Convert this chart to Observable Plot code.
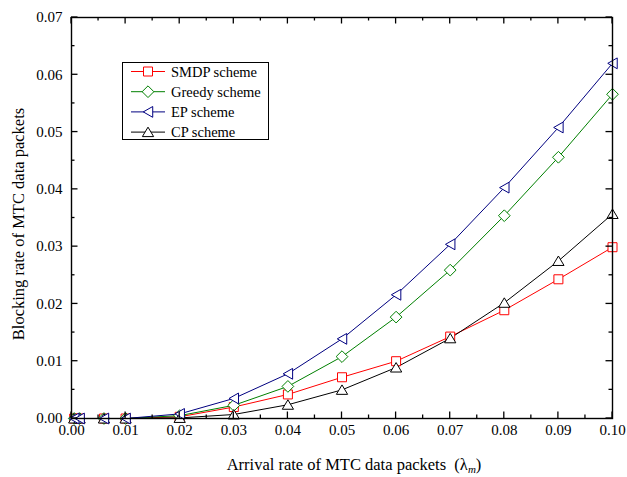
<!DOCTYPE html>
<html><head><meta charset="utf-8">
<script src="https://cdn.jsdelivr.net/npm/d3@7"></script>
<script src="https://cdn.jsdelivr.net/npm/@observablehq/plot@0.6"></script>
<style>body{margin:0;background:#fff} #chart{width:627px;height:477px}</style>
</head><body><div id="chart"></div>
<script>
const xValues = [0.0005, 0.0015, 0.006, 0.01, 0.02, 0.03, 0.04, 0.05, 0.06, 0.07, 0.08, 0.09, 0.10];
const smdpValues   = [0, 0, 0, 0, 0.0003, 0.0020, 0.0042, 0.0072, 0.0100, 0.0143, 0.0189, 0.0243, 0.0299];
const greedyValues = [0, 0, 0, 0, 0.0005, 0.0023, 0.0056, 0.0108, 0.0177, 0.0259, 0.0354, 0.0456, 0.0566];
const epValues     = [0, 0, 0, 0, 0.0008, 0.0035, 0.0078, 0.0139, 0.0216, 0.0304, 0.0403, 0.0508, 0.0620];
const cpValues     = [0, 0, 0, 0, 0.0001, 0.0007, 0.0024, 0.0050, 0.0089, 0.0140, 0.0202, 0.0275, 0.0357];
const seriesNames  = ["SMDP scheme", "Greedy scheme", "EP scheme", "CP scheme"];
const seriesColors = ["#ff0000", "#008000", "#000080", "#000000"];
const xTicks = [0, 0.01, 0.02, 0.03, 0.04, 0.05, 0.06, 0.07, 0.08, 0.09, 0.10];
const xMinorTicks = [0.005, 0.015, 0.025, 0.035, 0.045, 0.055, 0.065, 0.075, 0.085, 0.095];
const yTicks = [0, 0.01, 0.02, 0.03, 0.04, 0.05, 0.06, 0.07];
const yMinorTicks = [0.005, 0.015, 0.025, 0.035, 0.045, 0.055, 0.065];
const xTitle = "Arrival rate of MTC data packets  (";
const yTitle = "Blocking rate of MTC data packets";

const W = 627, H = 477, mL = 71, mR = 15, mT = 17, mB = 59;
const FONT = "Liberation Serif, Times New Roman, serif";

function rad(size) { return Math.sqrt(size / Math.PI); }
const symbols = [
  {draw(c, s) { const r = rad(s); c.moveTo(-r, -r); c.lineTo(r, -r); c.lineTo(r, r); c.lineTo(-r, r); c.closePath(); }},
  {draw(c, s) { const r = rad(s) * 1.3; c.moveTo(0, -r); c.lineTo(r, 0); c.lineTo(0, r); c.lineTo(-r, 0); c.closePath(); }},
  {draw(c, s) { const r = rad(s); c.moveTo(-r * 1.05, 0); c.lineTo(r * 1.05, -r * 1.2); c.lineTo(r * 1.05, r * 1.2); c.closePath(); }},
  {draw(c, s) { const r = rad(s); c.moveTo(0, -r * 1.1); c.lineTo(r * 1.25, r * 1.0); c.lineTo(-r * 1.25, r * 1.0); c.closePath(); }}
];
const allValues = [smdpValues, greedyValues, epValues, cpValues];
const series = allValues.map((vals, i) => xValues.map((x, j) => ({x, y: vals[j], s: i})));
const drawOrder = [0, 1, 3, 2];

const marks = [];
for (const i of drawOrder) {
  marks.push(Plot.line(series[i], {x: "x", y: "y", stroke: seriesColors[i], strokeWidth: 1}));
}
for (const i of drawOrder) {
  marks.push(Plot.dot(series[i], {x: "x", y: "y", symbol: symbols[i], r: 4.5, stroke: seriesColors[i], fill: "white", strokeWidth: 1}));
}
marks.push(Plot.frame({stroke: "black", strokeWidth: 1.4}));
marks.push(Plot.axisX({ticks: xTicks, tickSize: 0, tickPadding: 6, tickFormat: d3.format(".2f"), label: null, fontSize: 15, fontFamily: FONT, fill: "black"}));
marks.push(Plot.axisY({ticks: yTicks, tickSize: 0, tickPadding: 9, tickFormat: d3.format(".2f"), label: null, fontSize: 15, fontFamily: FONT, fill: "black"}));

const plot = Plot.plot({
  width: W, height: H,
  marginLeft: mL, marginRight: mR, marginTop: mT, marginBottom: mB,
  x: {domain: [0, 0.1]},
  y: {domain: [0, 0.07]},
  style: {fontFamily: FONT, fontSize: "15px", color: "black", background: "white"},
  marks
});
document.getElementById("chart").appendChild(plot);

const sx = plot.scale("x"), sy = plot.scale("y");
const X = v => sx.apply(v), Y = v => sy.apply(v);
const x0 = X(0), x1 = X(0.1), y0 = Y(0), y1 = Y(0.07);

const g = d3.select(plot).append("g")
  .attr("font-family", FONT)
  .attr("fill", "black").attr("text-anchor", "start");

// inward ticks on all four sides
const tk = g.append("g").attr("stroke", "black").attr("stroke-width", 1.3);
function vt(vals, len) {
  vals.forEach(v => {
    const px = X(v);
    tk.append("line").attr("x1", px).attr("x2", px).attr("y1", y0).attr("y2", y0 - len);
    tk.append("line").attr("x1", px).attr("x2", px).attr("y1", y1).attr("y2", y1 + len);
  });
}
function ht(vals, len) {
  vals.forEach(v => {
    const py = Y(v);
    tk.append("line").attr("x1", x0).attr("x2", x0 + len).attr("y1", py).attr("y2", py);
    tk.append("line").attr("x1", x1).attr("x2", x1 - len).attr("y1", py).attr("y2", py);
  });
}
vt(xTicks, 6.5); vt(xMinorTicks, 3.5); ht(yTicks, 6.5); ht(yMinorTicks, 3.5);

// x title
const xt = g.append("text").attr("x", 354).attr("y", 470).attr("text-anchor", "middle").attr("font-size", 16.5);
xt.append("tspan").text(xTitle);
xt.append("tspan").text("λ");
xt.append("tspan").attr("font-style", "italic").attr("font-size", 11).attr("dy", 3).text("m");
xt.append("tspan").attr("dy", -3).text(")");
// y title
g.append("text").attr("transform", "translate(24,224) rotate(-90)").attr("text-anchor", "middle").attr("font-size", 16.5).text(yTitle);
// legend
const lg = g.append("g");
lg.append("rect").attr("x", 122.5).attr("y", 62.5).attr("width", 146).attr("height", 77).attr("fill", "white").attr("stroke", "black").attr("stroke-width", 1);
seriesNames.forEach((name, i) => {
  const yy = 71.5 + i * 20.2;
  lg.append("line").attr("x1", 131).attr("x2", 165).attr("y1", yy).attr("y2", yy).attr("stroke", seriesColors[i]).attr("stroke-width", 1);
  const p = d3.path();
  symbols[i].draw(p, Math.PI * 4.5 * 4.5);
  lg.append("path").attr("d", p.toString()).attr("transform", `translate(148,${yy})`).attr("fill", "white").attr("stroke", seriesColors[i]).attr("stroke-width", 1);
  lg.append("text").attr("x", 171).attr("y", yy + 5).attr("text-anchor", "start").attr("font-size", 14.5).text(name);
});
</script>
</body></html>
